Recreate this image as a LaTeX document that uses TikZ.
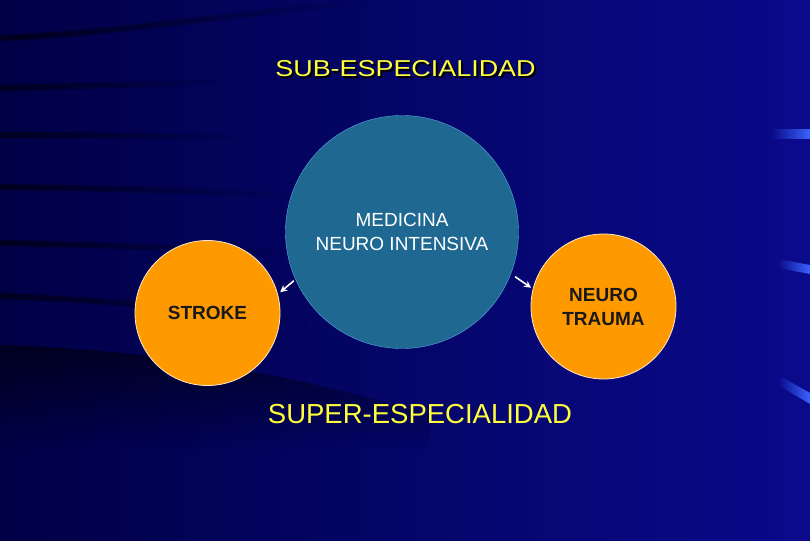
\documentclass[tikz,border=0pt]{standalone}
\usepackage{fontspec}
\setmainfont{Liberation Sans}
\usetikzlibrary{arrows.meta,fadings}

\definecolor{FondGauche}{RGB}{0,0,70}
\definecolor{FondDroite}{RGB}{10,10,140}
\definecolor{BleuCentre}{RGB}{30,104,146}
\definecolor{BordBleu}{RGB}{90,170,220}
\definecolor{Orange}{RGB}{255,153,0}
\definecolor{Jaune}{RGB}{255,255,60}
\definecolor{Reflet}{RGB}{60,100,255}

\begin{document}
\begin{tikzpicture}[x = 1pt, y = -1pt]
     \tikzset{Grand/.style  = {circle, draw = BordBleu, fill = BleuCentre,
                               minimum size = 233pt, inner sep = 0pt,
                               text  = white, align = center,
                               font  = \fontsize{19}{24}\selectfont},
              Petit/.style  = {circle, draw = white!80!Orange, fill = Orange,
                               line width = 0.8pt,
                               minimum size = 145pt, inner sep = 0pt,
                               text  = black!90, align = center,
                               font  = \bfseries\fontsize{19}{24}\selectfont},
              Titre/.style  = {anchor = base, inner sep = 0pt},
              Fleche/.style = {draw = white, line width = 1.6pt,
                               -{Stealth[length = 7pt, width = 7pt]}},
              Trait/.style  = {line width = 6pt, black, opacity = 0.55,
                               path fading = east}}
     \useasboundingbox (0,0) rectangle (810,540);
     \clip (0,0) rectangle (810,540);
     % fond
     \shade[left color = FondGauche, right color = FondDroite] (0,0) rectangle (810,540);
     \fill[black, opacity = 0.55, path fading = south]
          (0,345) .. controls (150,350) and (280,370) .. (430,415)
          -- (430,450) -- (0,450) -- cycle;
     \draw[Trait] (0,38) .. controls (120,33) and (220,15) .. (380,0);
     \draw[Trait] (0,88)  .. controls (80,86) and (150,84) .. (230,82);
     \draw[Trait] (0,135) .. controls (80,135) and (160,136) .. (250,138);
     \draw[Trait] (0,187) .. controls (100,188) and (200,191) .. (300,196);
     \draw[Trait] (0,243) .. controls (100,245) and (200,248) .. (310,254);
     \draw[Trait] (0,296) .. controls (100,300) and (200,308) .. (310,322);
     % reflets a droite
     \fill[Reflet, path fading = west] (772,129) rectangle (810,139);
     \fill[Reflet, path fading = west] (778,259) -- (810,265) -- (810,274) -- (778,268) -- cycle;
     \fill[Reflet, path fading = west] (778,375) -- (810,393) -- (810,404) -- (778,385) -- cycle;

     % cercles
     \node[Grand] (medicina) at (402,232) {MEDICINA\\NEURO INTENSIVA};
     \node[Petit] (stroke)   at (207.5,313) {STROKE};
     \node[Petit] (trauma)   at (603.5,306.5) {NEURO\\TRAUMA};
     \draw[Fleche, shorten <= 2pt, shorten >= 3pt] (medicina.204) -- (stroke.15);
     \draw[Fleche, shorten <= 5pt, shorten >= 2pt] (medicina.339) -- (trauma.166);

     % titres
     \node[Titre, text = black] (subombre) at (407.5,79)
          {\fontsize{23}{23}\selectfont\scalebox{1.17}[1]{SUB-ESPECIALIDAD}};
     \node[Titre, text = Jaune] (sub) at (405.5,77)
          {\fontsize{23}{23}\selectfont\scalebox{1.17}[1]{SUB-ESPECIALIDAD}};
     \node[Titre, text = Jaune] (super) at (420,423)
          {\fontsize{27.5}{27.5}\selectfont SUPER-ESPECIALIDAD};
\end{tikzpicture}
\end{document}
